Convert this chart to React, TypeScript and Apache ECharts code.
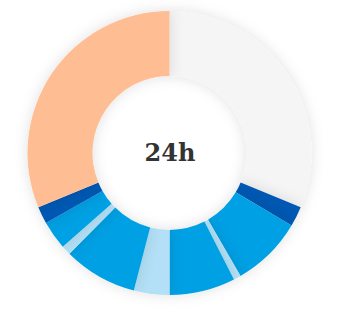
import React, { useEffect, useRef } from "react";
import * as echarts from "echarts";

const segmentNames = [
  "awake-a", "deep-1", "light-1", "rem-1", "light-2", "rem-2",
  "light-3", "rem-3", "light-4", "deep-2", "awake-b",
];
const segmentHours = [7.5, 0.55, 1.95, 0.2, 1.8, 0.97, 2.02, 0.26, 0.78, 0.47, 7.5];
const segmentColors = [
  "#f5f5f5", "#0059b3", "#00a0e4", "#b3e0f6", "#00a0e4", "#b3e0f6",
  "#00a0e4", "#b3e0f6", "#00a0e4", "#0059b3", "#ffbd94",
];
const centerLabel = "24h";

export default function App() {
  const ref = useRef<HTMLDivElement>(null);
  useEffect(() => {
    if (!ref.current) return;
    const chart = echarts.init(ref.current, undefined, { renderer: "svg" });
    chart.setOption({
      animation: false,
      backgroundColor: "#ffffff",
      graphic: [
        {
          type: "text",
          x: 170,
          y: 152,
          z: 10,
          style: {
            text: centerLabel,
            align: "center",
            verticalAlign: "middle",
            fontFamily: "DejaVu Serif",
            fontWeight: "bold",
            fontSize: 24,
            fill: "#333333",
          },
        },
      ],
      series: [
        {
          type: "pie",
          center: [169.5, 153],
          radius: [77, 142],
          startAngle: 90,
          clockwise: true,
          label: { show: false },
          labelLine: { show: false },
          silent: true,
          itemStyle: {
            shadowBlur: 14,
            shadowColor: "rgba(0,0,0,0.12)",
            borderWidth: 0,
          },
          data: segmentNames.map((n, i) => ({
            name: n,
            value: segmentHours[i],
            itemStyle: { color: segmentColors[i] },
          })),
        },
      ],
    });
    return () => chart.dispose();
  }, []);
  return (
    <div
      ref={ref}
      style={{ position: "fixed", left: 0, top: 0, width: 337, height: 311 }}
    />
  );
}
